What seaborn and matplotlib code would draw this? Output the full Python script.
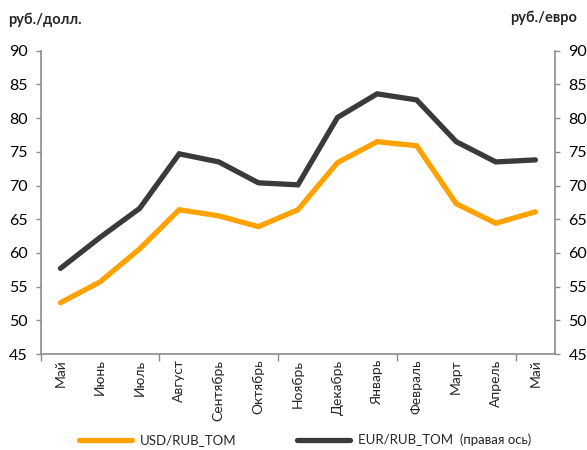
import matplotlib
matplotlib.use("Agg")
import matplotlib.pyplot as plt
import seaborn as sns
import pandas as pd
from matplotlib.lines import Line2D
from matplotlib.ticker import FixedLocator, NullFormatter

months = ["Май", "Июнь", "Июль", "Август", "Сентябрь", "Октябрь", "Ноябрь",
          "Декабрь", "Январь", "Февраль", "Март", "Апрель", "Май"]
usd = [52.6, 55.7, 60.6, 66.4, 65.5, 63.9, 66.4, 73.4, 76.5, 75.9, 67.3, 64.4, 66.1]
eur = [57.7, 62.3, 66.6, 74.7, 73.5, 70.4, 70.1, 80.1, 83.6, 82.7, 76.5, 73.5, 73.8]
yticks = [45, 50, 55, 60, 65, 70, 75, 80, 85, 90]
series_names = ["USD/RUB_TOM", "EUR/RUB_TOM  (правая ось)"]

sns.set_style("white")
plt.rcParams['font.family'] = ['Lato', 'DejaVu Sans']

ORANGE = "#FFA200"
DARK = "#3A3A3A"
GRAY = "#8C8C8C"
FS = 11.5

df = pd.DataFrame({"pos": range(len(months)), "usd": usd, "eur": eur})

fig = plt.figure(figsize=(5.87, 4.5), dpi=100)
ax = fig.add_axes([0.0693, 0.2133, 0.8765, 0.674])
ax2 = ax.twinx()

sns.lineplot(data=df, x="pos", y="usd", ax=ax, color=ORANGE, linewidth=3.8,
             sort=False, solid_capstyle="round", solid_joinstyle="miter")
sns.lineplot(data=df, x="pos", y="eur", ax=ax2, color=DARK, linewidth=3.8,
             sort=False, solid_capstyle="round", solid_joinstyle="miter")

for a in (ax, ax2):
    a.set_ylim(45, 90)
    a.set_yticks(yticks)
    a.set_xlim(-0.5, len(months) - 0.5)
    a.set_xlabel("")
    a.set_ylabel("")
    a.spines["top"].set_visible(False)
    for s in ("left", "right", "bottom"):
        a.spines[s].set_color(GRAY)
        a.spines[s].set_linewidth(1.2)
    a.tick_params(axis="y", labelsize=FS, colors=GRAY, labelcolor="black",
                  length=3.5, width=1, direction="out", pad=6)

ax.spines["right"].set_visible(False)
ax2.spines["left"].set_visible(False)
ax2.spines["bottom"].set_visible(False)
ax.tick_params(axis="y", left=True, right=False)
ax2.tick_params(axis="y", right=True, left=False)

ax.set_xticks(range(len(months)))
ax.set_xticklabels(months, rotation=90, fontsize=10)
ax.tick_params(axis="x", length=0, pad=4)
ax.xaxis.set_minor_locator(FixedLocator([-0.5, 2.5, 5.5, 8.5, 11.5]))
ax.xaxis.set_minor_formatter(NullFormatter())
ax.tick_params(axis="x", which="minor", length=5, width=1, color=GRAY, bottom=True)

fig.text(0.013, 0.956, "руб./долл.", fontsize=10.5, fontweight="bold", ha="left", va="center")
fig.text(0.869, 0.96, "руб./евро", fontsize=10.5, fontweight="bold", ha="left", va="center")

handles = [Line2D([], [], color=ORANGE, linewidth=3.8),
           Line2D([], [], color=DARK, linewidth=3.8)]
fig.legend(handles, series_names,
           loc="center", bbox_to_anchor=(0.52, 0.022), ncol=2, frameon=False,
           fontsize=9.5, handlelength=4.0, columnspacing=4.6, handletextpad=0.6)

fig.savefig("out.png", dpi=100)
